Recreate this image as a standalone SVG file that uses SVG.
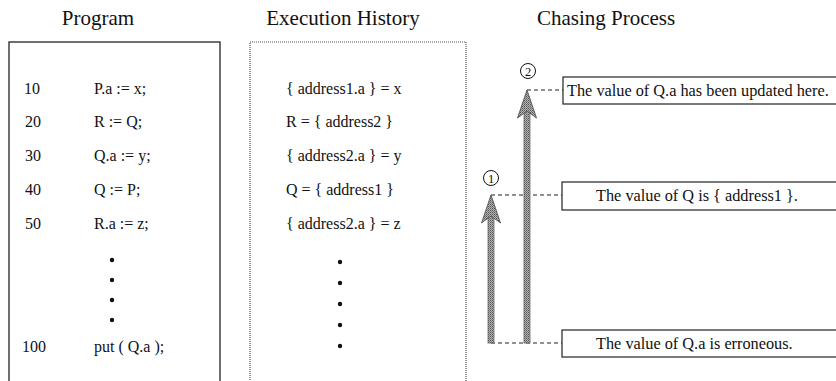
<svg xmlns="http://www.w3.org/2000/svg" width="836" height="381" viewBox="0 0 836 381">
<defs>
  <pattern id="half" width="2" height="2" patternUnits="userSpaceOnUse">
    <rect width="2" height="2" fill="#b4b4b4"/>
    <rect width="1" height="1" fill="#555"/>
    <rect x="1" y="1" width="1" height="1" fill="#777"/>
  </pattern>
</defs>
<style>
  .title{font-family:"Liberation Serif",serif;font-size:21px;fill:#111;text-anchor:middle}
  .t{font-family:"Liberation Serif",serif;font-size:16px;fill:#111}
  .tc{font-family:"Liberation Serif",serif;font-size:16.3px;fill:#111}
  .c{font-family:"Liberation Serif",serif;font-size:12.5px;fill:#111;text-anchor:middle}
  .dot{fill:#111}
  .box{fill:#fff;stroke:#222;stroke-width:1.3}
  .ebox{fill:#fff;stroke:#555;stroke-width:1.2;stroke-dasharray:1 1}
  .lbl{fill:#fff;stroke:#222;stroke-width:1.2}
  .dash{stroke:#222;stroke-width:1.2;stroke-dasharray:4 3;fill:none}
  .shaft{fill:url(#half);stroke:#666;stroke-width:0.8}
  .head{fill:url(#half);stroke:#555;stroke-width:0.9}
  .circ{fill:none;stroke:#111;stroke-width:1}
</style>
<rect width="836" height="381" fill="#fff"/>

<text class="title" x="98" y="25">Program</text>
<text class="title" x="343" y="25">Execution History</text>
<text class="title" x="606" y="25">Chasing Process</text>

<g id="program">
  <rect class="box" x="9" y="42" width="211" height="350"/>
  <text class="t" x="24" y="94">10</text><text class="t" x="94" y="94">P.a := x;</text>
  <text class="t" x="25" y="127">20</text><text class="t" x="94" y="127">R := Q;</text>
  <text class="t" x="25" y="161">30</text><text class="t" x="94" y="161">Q.a := y;</text>
  <text class="t" x="25" y="195">40</text><text class="t" x="94" y="195">Q := P;</text>
  <text class="t" x="25" y="229">50</text><text class="t" x="94" y="229">R.a := z;</text>
  <circle class="dot" cx="112" cy="260" r="2.2"/>
  <circle class="dot" cx="112" cy="280" r="2.2"/>
  <circle class="dot" cx="112" cy="300" r="2.2"/>
  <circle class="dot" cx="112" cy="320" r="2.2"/>
  <text class="t" x="22" y="352">100</text><text class="t" x="94" y="352">put ( Q.a );</text>
</g>

<g id="history">
  <rect class="ebox" x="250" y="42" width="216" height="350"/>
  <text class="t" x="286" y="94">{ address1.a } = x</text>
  <text class="t" x="286" y="127">R = { address2 }</text>
  <text class="t" x="286" y="161">{ address2.a } = y</text>
  <text class="t" x="286" y="195">Q = { address1 }</text>
  <text class="t" x="286" y="229">{ address2.a } = z</text>
  <circle class="dot" cx="340" cy="262" r="2.2"/>
  <circle class="dot" cx="340" cy="283" r="2.2"/>
  <circle class="dot" cx="340" cy="304" r="2.2"/>
  <circle class="dot" cx="340" cy="325" r="2.2"/>
  <circle class="dot" cx="340" cy="346" r="2.2"/>
</g>

<g id="label-updated">
  <rect class="lbl" x="563" y="77" width="290" height="27"/>
  <text class="tc" x="567" y="96">The value of Q.a has been updated here.</text>
</g>
<g id="label-q">
  <rect class="lbl" x="562" y="182" width="290" height="28"/>
  <text class="tc" x="596" y="201">The value of Q is { address1 }.</text>
</g>
<g id="label-err">
  <rect class="lbl" x="562" y="330" width="290" height="27"/>
  <text class="tc" x="596" y="349">The value of Q.a is erroneous.</text>
</g>

<g id="marker1">
  <circle class="circ" cx="491" cy="178" r="7.5"/>
  <text class="c" x="491" y="182.5">1</text>
</g>
<g id="marker2">
  <circle class="circ" cx="528" cy="71" r="7.5"/>
  <text class="c" x="528" y="75.5">2</text>
</g>

<g id="connectors">
  <line class="dash" x1="491" y1="343" x2="562" y2="343"/>
  <line class="dash" x1="491" y1="195" x2="562" y2="195"/>
  <line class="dash" x1="527" y1="90" x2="563" y2="90"/>
  <rect class="shaft" x="488" y="214" width="6" height="129"/>
  <path class="head" d="M491,195 L500.5,223 L491,216 L481.5,223 Z"/>
  <rect class="shaft" x="524" y="109" width="6" height="234"/>
  <path class="head" d="M527,90 L536.5,118 L527,111 L517.5,118 Z"/>
</g>
</svg>
